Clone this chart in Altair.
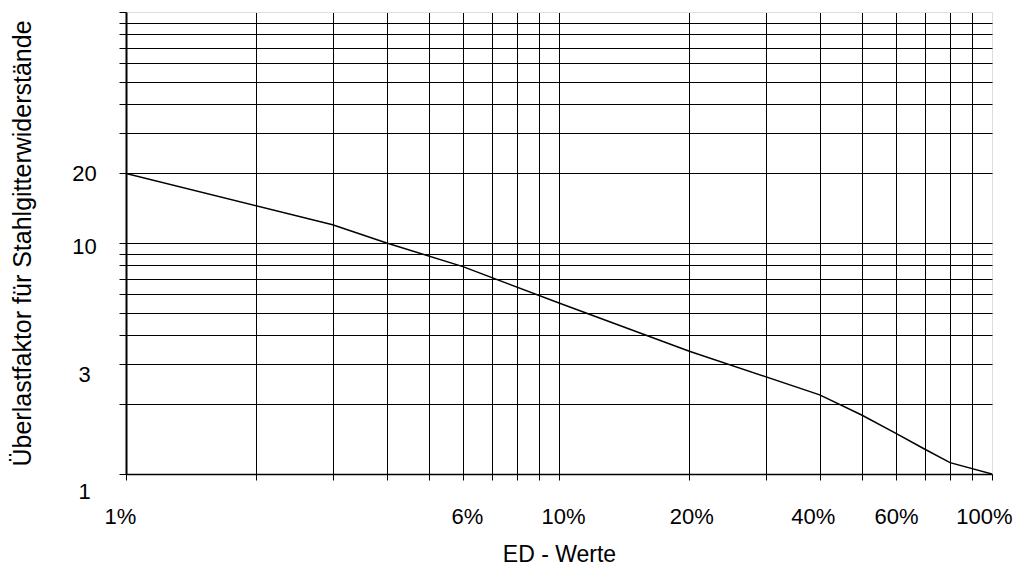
import altair as alt
import pandas as pd

# ED values (%) and overload factor
ed_values = [1, 3, 4, 6, 10, 20, 40, 50, 60, 70, 80, 100]
factor_values = [20, 12, 10, 7.9, 5.5, 3.4, 2.2, 1.8, 1.5, 1.28, 1.12, 1.0]

grid_vals = [1, 2, 3, 4, 5, 6, 7, 8, 9, 10, 20, 30, 40, 50, 60, 70, 80, 90, 100]
x_label_vals = [1, 6, 10, 20, 40, 60, 100]
y_label_vals = [1, 3, 10, 20]

df = pd.DataFrame({"ed": ed_values, "factor": factor_values})

FONT = "Liberation Sans"

def label_expr(vals, suffix):
    arr = "[" + ",".join(str(v) for v in vals) + "]"
    return f"indexof({arr}, datum.value) >= 0 ? (datum.value + '{suffix}') : ''"

grid_color = {"condition": {"test": "datum.value === 100", "value": "#dddddd"}, "value": "black"}

x_axis = alt.Axis(
    values=grid_vals,
    labelExpr=label_expr(x_label_vals, "%"),
    title="ED - Werte",
    titleFont=FONT, titleFontSize=23, titleFontWeight="normal", titleColor="black",
    titleX=433, titleY=87, titleBaseline="alphabetic", titleAlign="center",
    labelFont=FONT, labelFontSize=22, labelColor="black",
    labelBaseline="middle", labelAlign="center", labelPadding=36,
    labelOffset={"condition": [
        {"test": "datum.value === 1", "value": -6},
        {"test": "datum.value === 6", "value": 4},
        {"test": "datum.value === 10", "value": 4},
        {"test": "datum.value === 20", "value": 2},
        {"test": "datum.value === 40", "value": -7},
        {"test": "datum.value === 100", "value": -8},
    ], "value": 0},
    labelFlush=False, labelOverlap=False,
    tickSize=6, tickColor="black", tickWidth=1,
    domainColor="black", domainWidth=1.5,
    grid=True, gridColor=grid_color, gridWidth=1, gridOpacity=1,
)

y_axis = alt.Axis(
    values=grid_vals,
    labelExpr=label_expr(y_label_vals, ""),
    title="Überlastfaktor für Stahlgitterwiderstände",
    titleFont=FONT, titleFontSize=25, titleFontWeight="normal", titleColor="black",
    titleX=-104, titleY=231, titleAngle=-90, titleBaseline="middle", titleAlign="center",
    labelFont=FONT, labelFontSize=22, labelColor="black",
    labelBaseline="middle", labelAlign="center", labelPadding=35,
    labelOffset={"condition": [
        {"test": "datum.value === 1", "value": 17},
        {"test": "datum.value === 3", "value": 11},
        {"test": "datum.value === 10", "value": 3},
    ], "value": 0},
    labelFlush=False, labelOverlap=False,
    tickSize=7, tickColor="black", tickWidth=1,
    domainColor="black", domainWidth=2,
    grid=True, gridColor=grid_color, gridWidth=1, gridOpacity=1,
)

chart = (
    alt.Chart(df)
    .mark_line(color="black", strokeWidth=1.5, clip=True)
    .encode(
        x=alt.X("ed:Q", scale=alt.Scale(type="log", domain=[1, 100], nice=False), axis=x_axis),
        y=alt.Y("factor:Q", scale=alt.Scale(type="log", domain=[1, 100], nice=False), axis=y_axis),
    )
    .properties(
        width=866,
        height=462,
        autosize=alt.AutoSizeParams(type="none"),
        padding={"left": 118, "top": 4, "right": 23, "bottom": 94},
        background="white",
    )
    .configure_view(stroke=None)
)

chart.save("out.html", embed_options={"renderer": "svg", "actions": False})
